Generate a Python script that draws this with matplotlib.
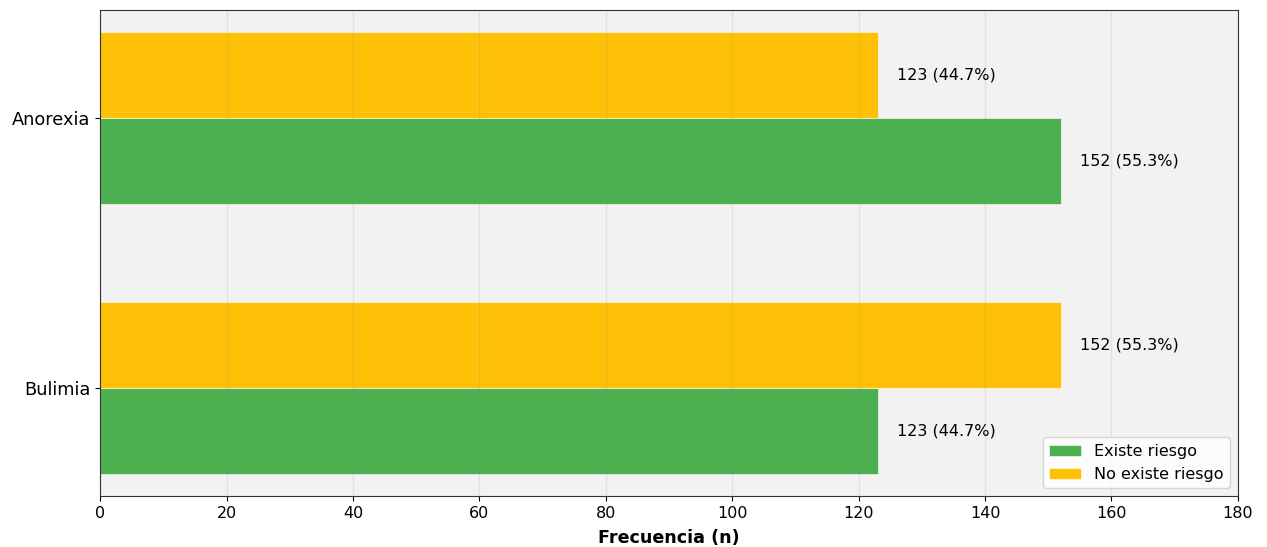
import matplotlib.pyplot as plt
import numpy as np

categories = ["Bulimia", "Anorexia"]
existe = [123, 152]
no_existe = [152, 123]
pct_existe = [44.7, 55.3]
pct_no_existe = [55.3, 44.7]

green = "#4CAF50"
yellow = "#FFC107"

fig, ax = plt.subplots(figsize=(12.67, 5.47), dpi=100)
fig.subplots_adjust(left=0.079, right=0.977, top=0.982, bottom=0.093)

y = np.arange(len(categories))
h = 0.32
b1 = ax.barh(y - h / 2, existe, height=h, color=green, edgecolor="white",
             linewidth=0.4, label="Existe riesgo")
b2 = ax.barh(y + h / 2, no_existe, height=h, color=yellow, edgecolor="white",
             linewidth=0.4, label="No existe riesgo")

for bars, vals, pcts in [(b1, existe, pct_existe), (b2, no_existe, pct_no_existe)]:
    for bar, v, p in zip(bars, vals, pcts):
        ax.text(v + 3, bar.get_y() + bar.get_height() / 2, f"{v} ({p}%)",
                va="center", ha="left", fontsize=11.5)

ax.set_facecolor("#f2f2f2")
ax.grid(axis="x", color="gray", alpha=0.15, linewidth=1)
ax.set_xlim(0, 180)
ax.set_yticks(y)
ax.set_yticklabels(categories, fontsize=12.8)
ax.tick_params(axis="x", labelsize=11.5)
ax.set_xlabel("Frecuencia (n)", fontsize=12.6, fontweight="bold", labelpad=6)
for s in ax.spines.values():
    s.set_color("#333333")
ax.legend(loc="lower right", fontsize=11.5)

fig.savefig("out.png")
